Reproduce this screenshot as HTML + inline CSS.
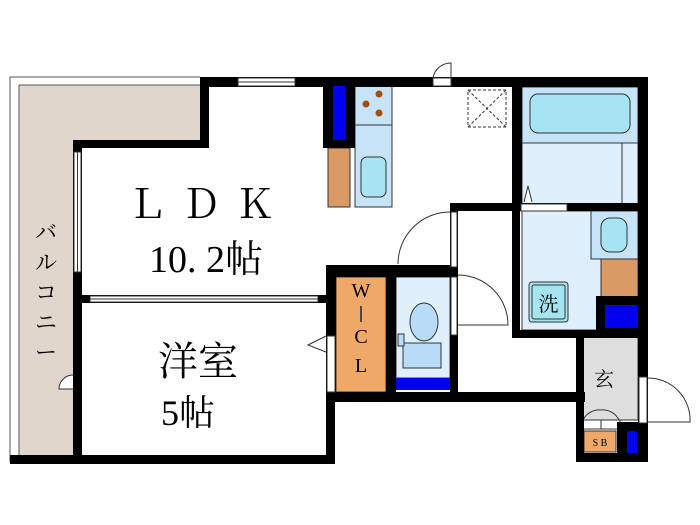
<!DOCTYPE html>
<html><head><meta charset="utf-8"><style>
html,body{margin:0;padding:0;background:#fff;width:700px;height:525px;overflow:hidden}
svg text{font-family:"Liberation Serif","Noto Serif CJK SC",serif}
</style></head><body>
<svg width="700" height="525" viewBox="0 0 700 525" xmlns="http://www.w3.org/2000/svg">
<!-- balcony -->
<path d="M200 77 H10 V462 H80" fill="none" stroke="#555" stroke-width="1"/>
<path d="M19 85 H200 V140 H73 V455 H19 Z" fill="#e0d6cc"/>
<line x1="19" y1="85" x2="19" y2="455" stroke="#555"/>
<line x1="19" y1="85" x2="200" y2="85" stroke="#555"/>
<!-- balcony door -->
<path d="M73 375 A14 14 0 0 0 59 389 L73 389" fill="#fff" stroke="#333" stroke-width="1"/>
<!-- light fills -->
<rect x="355" y="86" width="37" height="39" fill="#c7e3f7" stroke="#333" stroke-width="1"/>
<rect x="355" y="125" width="37" height="82" fill="#c7e3f7" stroke="#333" stroke-width="1"/>
<rect x="361" y="157" width="25" height="40" rx="6" fill="#a6e4f2" stroke="#333"/>
<circle cx="379" cy="94" r="3.5" fill="#a24d12"/>
<circle cx="366" cy="104" r="3.5" fill="#a24d12"/>
<circle cx="379" cy="113" r="3.5" fill="#a24d12"/>
<rect x="328" y="148" width="22" height="59" fill="#d99a66" stroke="#333"/>
<rect x="468" y="90" width="38" height="37" fill="none" stroke="#333" stroke-dasharray="3,2"/>
<line x1="468" y1="90" x2="506" y2="127" stroke="#333" stroke-dasharray="3,2"/>
<line x1="506" y1="90" x2="468" y2="127" stroke="#333" stroke-dasharray="3,2"/>
<!-- bath -->
<rect x="522" y="87" width="116" height="56" fill="#c7e3f7" stroke="#333"/>
<rect x="522" y="143" width="116" height="62" fill="#dff0fc" stroke="#333"/>
<line x1="622" y1="143" x2="622" y2="205" stroke="#333"/>
<rect x="530" y="94" width="100" height="39" rx="8" fill="#a6e4f2" stroke="#333"/>
<!-- washroom -->
<rect x="522" y="211" width="116" height="119" fill="#dff0fc" stroke="#333"/>
<rect x="591" y="211" width="47" height="48" fill="#c7e3f7" stroke="#333"/>
<rect x="601" y="218" width="26" height="34" rx="9" fill="#a6e4f2" stroke="#333"/>
<rect x="601" y="259" width="37" height="38" fill="#d99a66" stroke="#333"/>
<rect x="529" y="282" width="39" height="40" rx="3" fill="#a6e4f2" stroke="#333"/>
<rect x="532" y="285" width="33" height="34" rx="2" fill="none" stroke="#333"/>
<text x="548.5" y="311" font-size="20" text-anchor="middle" font-family="Liberation Sans,Noto Sans CJK JP,sans-serif">洗</text>
<line x1="516" y1="215" x2="516" y2="325" stroke="#333" stroke-dasharray="2,1"/>
<!-- WCL & toilet -->
<rect x="336" y="277" width="50" height="115" fill="#f0a868" stroke="#333"/>
<rect x="396" y="277" width="54" height="101" fill="#dff0fc" stroke="#333"/>
<ellipse cx="424" cy="322" rx="14" ry="19" fill="#b8dcf7" stroke="#333"/>
<rect x="403" y="343" width="38" height="25" fill="#b8dcf7" stroke="#333"/>
<rect x="398" y="334" width="6" height="12" fill="#b8dcf7" stroke="#333"/>
<rect x="396" y="378" width="54" height="12" fill="#0000ee"/>
<!-- genkan -->
<rect x="583" y="336" width="55" height="84" fill="#dedede" stroke="#333"/>
<rect x="584" y="431" width="32" height="21" fill="#f0a868" stroke="#333"/>
<text x="600" y="446" font-size="10" text-anchor="middle">S B</text>
<path d="M583 420 V429 H620 V420 M601 420 V429" fill="none" stroke="#333"/>
<path d="M583 420 A18 18 0 0 1 601 410 M619 420 A18 18 0 0 0 601 410" fill="none" stroke="#333"/>
<!-- walls -->
<g fill="#000">
<rect x="200" y="77" width="448" height="10"/>
<rect x="200" y="77" width="9" height="71"/>
<rect x="73" y="140" width="136" height="8"/>
<rect x="73" y="140" width="9" height="322"/>
<rect x="10" y="455" width="325" height="9"/>
<rect x="326" y="392" width="9" height="72"/>
<rect x="326" y="392" width="259" height="10"/>
<rect x="326" y="265" width="10" height="137"/>
<rect x="326" y="265" width="132" height="12"/>
<rect x="386" y="265" width="10" height="135"/>
<rect x="450" y="203" width="8" height="65"/>
<rect x="450" y="268" width="8" height="132"/>
<rect x="450" y="203" width="198" height="8"/>
<rect x="512" y="77" width="10" height="134"/>
<rect x="512" y="203" width="8" height="135"/>
<rect x="512" y="330" width="136" height="8"/>
<rect x="638" y="77" width="10" height="385"/>
<rect x="596" y="296" width="52" height="42"/>
<rect x="576" y="330" width="8" height="132"/>
<rect x="576" y="453" width="72" height="9"/>
<rect x="617" y="422" width="31" height="40"/>
<rect x="323" y="77" width="32" height="71"/>
<rect x="73" y="295" width="262" height="8"/>
</g>
<rect x="333" y="86" width="12" height="54" fill="#0000ee"/>
<rect x="605" y="305" width="33" height="23" fill="#0000ee"/>
<rect x="627" y="431" width="10" height="22" fill="#0000ee"/>
<!-- windows / openings -->
<rect x="238" y="78" width="57" height="8" fill="#fff" stroke="#333"/>
<line x1="238" y1="82" x2="295" y2="82" stroke="#333"/>
<rect x="74" y="152" width="7" height="120" fill="#fff" stroke="#333"/>
<line x1="77.5" y1="152" x2="77.5" y2="272" stroke="#333"/>
<rect x="90" y="296" width="228" height="6" fill="#fff" stroke="#333"/>
<line x1="90" y1="299" x2="318" y2="299" stroke="#333"/>
<line x1="260" y1="299" x2="314" y2="299" stroke="#333" stroke-dasharray="3,2"/>
<rect x="433" y="78" width="18" height="8" fill="#fff" stroke="#333"/>
<path d="M433 78 A18 18 0 0 1 451 63 V78" fill="none" stroke="#333"/>
<rect x="521" y="204" width="46" height="7" fill="#fff" stroke="#333"/>
<path d="M524 202 L528 186 L532 202" fill="#fff" stroke="#333"/>
<rect x="451" y="212" width="6" height="55" fill="#fff" stroke="#333"/>
<path d="M450 212 A52 52 0 0 0 398 264" fill="none" stroke="#333"/>
<rect x="451" y="277" width="6" height="58" fill="#fff" stroke="#333"/>
<path d="M458 275 A50 50 0 0 1 508 325 H458" fill="none" stroke="#333"/>
<rect x="327" y="336" width="8" height="56" fill="#fff" stroke="#333"/>
<path d="M326 336 L308 345 L326 352" fill="#fff" stroke="#333"/>
<rect x="639" y="377" width="8" height="46" fill="#fff" stroke="#333"/>
<path d="M648 378 A42 42 0 0 1 690 422 H648" fill="none" stroke="#333"/>
<!-- labels -->
<text x="208" y="218" font-size="40" text-anchor="middle" letter-spacing="14">ＬＤＫ</text>
<text x="206" y="272" font-size="38" text-anchor="middle">10. 2帖</text>
<text x="198" y="375" font-size="40" text-anchor="middle">洋室</text>
<text x="188" y="425" font-size="36" text-anchor="middle">5帖</text>
<text x="604" y="386" font-size="20" text-anchor="middle">玄</text>
<g font-size="22" text-anchor="middle">
<text x="46" y="240">バ</text>
<text x="46" y="270">ル</text>
<text x="46" y="300">コ</text>
<text x="46" y="330">ニ</text>
<text x="46" y="360">ー</text>
</g>
<g font-size="20" text-anchor="middle">
<text x="361" y="297">W</text>
<line x1="361" y1="306" x2="361" y2="322" stroke="#222" stroke-width="1.5"/>
<text x="361" y="343">C</text>
<text x="361" y="372">L</text>
</g>
</svg>
</body></html>
